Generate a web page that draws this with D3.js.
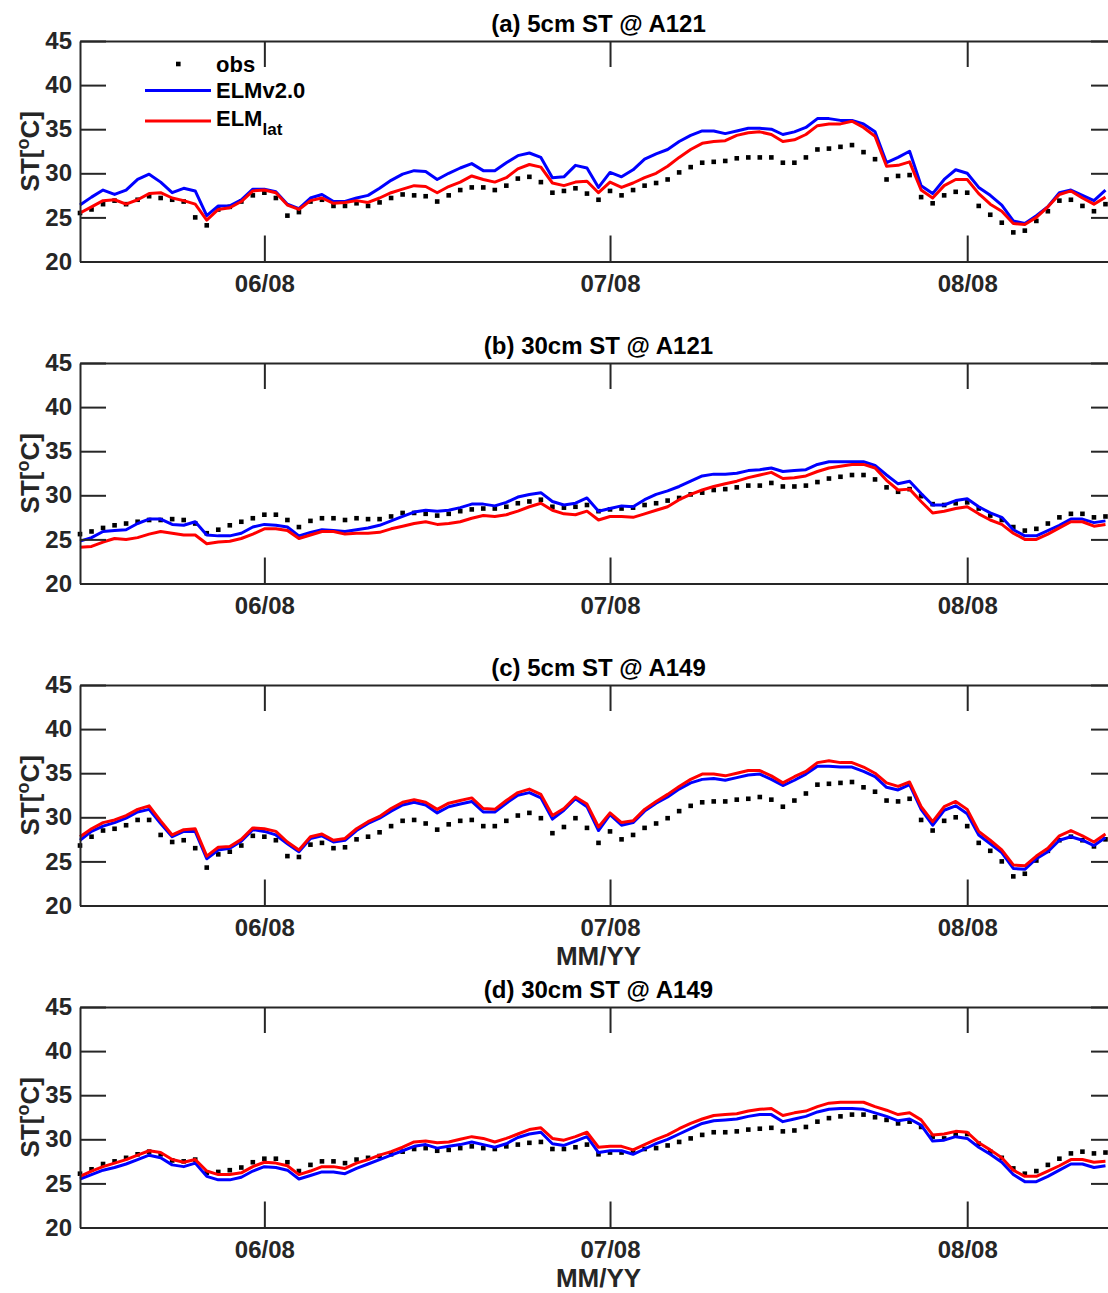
<!DOCTYPE html>
<html>
<head>
<meta charset="utf-8">
<script src="https://cdn.jsdelivr.net/npm/d3@7"></script>
<style>
  html, body { margin: 0; padding: 0; background: #fff; overflow: hidden; }
  svg { display: block; font-family: "Liberation Sans", Arial, Helvetica, sans-serif; font-weight: bold; }
</style>
</head>
<body>
<div id="chart"></div>
<script>
// daily values, 16 May 2008 .. 13 Aug 2008
const firstDay = new Date(Date.UTC(2008, 4, 16));
const lastDay = new Date(Date.UTC(2008, 7, 14));
const days = d3.utcDay.range(firstDay, d3.utcDay.offset(firstDay, 90));
const monthTicks = [new Date(Date.UTC(2008, 5, 1)), new Date(Date.UTC(2008, 6, 1)), new Date(Date.UTC(2008, 7, 1))];
const yTicks = [20, 25, 30, 35, 40, 45];
const titles = ["(a) 5cm ST @ A121", "(b) 30cm ST @ A121", "(c) 5cm ST @ A149", "(d) 30cm ST @ A149"];
const seriesNames = ["obs", "ELMv2.0", "ELMlat"];

// (a) 5cm @ A121
const obsA = [25.5, 25.9, 26.5, 26.9, 26.5, 27.0, 27.4, 27.2, 27.0, 26.8, 25.0, 24.1, 25.9, 26.2, 26.8, 27.5, 27.8, 27.2, 25.2, 25.6, 26.8, 27.0, 26.3, 26.3, 26.6, 26.3, 26.7, 27.2, 27.6, 27.5,
  27.4, 26.8, 27.5, 28.1, 28.4, 28.4, 28.1, 28.6, 29.4, 29.6, 29.0, 27.8, 28.0, 28.3, 27.7, 27.0, 28.0, 27.5, 28.1, 28.6, 28.9, 29.3, 30.1, 30.7, 31.2, 31.3, 31.4, 31.7, 31.8, 31.8,
  31.8, 31.2, 31.2, 31.8, 32.7, 32.8, 33.0, 33.2, 32.4, 31.6, 29.3, 29.7, 29.8, 27.3, 26.6, 27.5, 27.9, 27.8, 26.3, 25.3, 24.4, 23.3, 23.5, 24.6, 25.7, 26.9, 27.0, 26.3, 25.7, 26.5];
const v2A = [26.4, 27.3, 28.1, 27.6, 28.1, 29.3, 29.9, 29.0, 27.8, 28.3, 28.0, 25.2, 26.3, 26.3, 27.0, 28.2, 28.2, 27.9, 26.5, 26.0, 27.2, 27.6, 26.8, 26.8, 27.2, 27.5, 28.3, 29.2, 29.9, 30.3,
  30.2, 29.3, 30.0, 30.6, 31.1, 30.3, 30.3, 31.2, 32.0, 32.3, 31.8, 29.5, 29.6, 30.9, 30.6, 28.4, 30.1, 29.6, 30.4, 31.6, 32.2, 32.7, 33.6, 34.3, 34.8, 34.8, 34.5, 34.8, 35.1, 35.1,
  35.0, 34.4, 34.7, 35.2, 36.2, 36.2, 36.0, 36.0, 35.6, 34.7, 31.2, 31.8, 32.5, 28.6, 27.7, 29.3, 30.4, 30.0, 28.4, 27.5, 26.4, 24.6, 24.3, 25.2, 26.2, 27.8, 28.1, 27.5, 26.9, 28.1];
const latA = [25.5, 26.2, 26.9, 27.0, 26.5, 27.0, 27.7, 27.8, 27.2, 26.9, 26.5, 24.7, 25.9, 26.1, 26.8, 28.0, 28.1, 27.8, 26.4, 25.9, 26.9, 27.2, 26.6, 26.7, 26.9, 26.7, 27.2, 27.8, 28.2, 28.6,
  28.5, 27.8, 28.5, 29.0, 29.7, 29.3, 29.0, 29.5, 30.5, 31.0, 30.7, 28.9, 28.6, 29.0, 29.1, 27.8, 29.0, 28.4, 28.9, 29.5, 30.0, 30.8, 31.8, 32.7, 33.4, 33.6, 33.7, 34.3, 34.6, 34.7,
  34.4, 33.6, 33.8, 34.4, 35.4, 35.6, 35.6, 35.9, 35.2, 34.2, 30.8, 30.9, 31.3, 28.1, 27.2, 28.6, 29.3, 29.3, 27.7, 26.5, 25.7, 24.3, 24.2, 25.0, 26.2, 27.6, 28.0, 27.2, 26.5, 27.3];

// (b) 30cm @ A121
const obsB = [25.6, 25.9, 26.3, 26.6, 26.8, 27.0, 27.2, 27.2, 27.3, 27.2, 26.8, 25.7, 26.1, 26.6, 27.0, 27.4, 27.8, 27.8, 27.2, 26.4, 27.1, 27.4, 27.4, 27.2, 27.4, 27.3, 27.3, 27.6, 28.0, 28.0,
  27.9, 27.7, 27.9, 28.2, 28.4, 28.5, 28.5, 28.7, 29.1, 29.3, 29.5, 28.7, 28.6, 28.7, 28.9, 28.2, 28.4, 28.5, 28.6, 28.9, 29.1, 29.4, 29.7, 30.1, 30.3, 30.6, 30.7, 30.9, 31.1, 31.1,
  31.4, 31.0, 31.0, 31.1, 31.5, 31.9, 32.1, 32.3, 32.3, 31.8, 30.9, 30.4, 30.7, 29.9, 29.0, 28.9, 29.1, 29.2, 28.5, 27.7, 27.2, 26.4, 26.0, 26.2, 26.8, 27.5, 27.9, 27.9, 27.5, 27.6];
const v2B = [24.8, 25.2, 25.9, 26.0, 26.1, 26.8, 27.3, 27.3, 26.7, 26.6, 27.0, 25.5, 25.4, 25.4, 25.7, 26.4, 26.7, 26.6, 26.4, 25.4, 25.8, 26.1, 26.0, 25.9, 26.1, 26.3, 26.6, 27.1, 27.6, 28.1,
  28.3, 28.2, 28.3, 28.6, 29.0, 29.0, 28.8, 29.2, 29.8, 30.1, 30.3, 29.3, 28.9, 29.1, 29.7, 28.2, 28.5, 28.8, 28.7, 29.5, 30.1, 30.5, 31.0, 31.6, 32.2, 32.4, 32.4, 32.5, 32.8, 32.9,
  33.1, 32.7, 32.8, 32.9, 33.5, 33.8, 33.8, 33.8, 33.8, 33.4, 32.3, 31.3, 31.6, 30.2, 28.9, 28.9, 29.4, 29.6, 28.7, 28.0, 27.5, 26.1, 25.4, 25.4, 26.0, 26.6, 27.3, 27.3, 26.9, 27.1];
const latB = [24.1, 24.2, 24.7, 25.1, 25.0, 25.2, 25.6, 25.9, 25.7, 25.5, 25.5, 24.5, 24.7, 24.8, 25.1, 25.6, 26.2, 26.2, 26.0, 25.1, 25.5, 25.9, 25.9, 25.6, 25.7, 25.7, 25.8, 26.2, 26.5, 26.8,
  27.0, 26.7, 26.8, 27.0, 27.4, 27.7, 27.6, 27.8, 28.2, 28.7, 29.1, 28.3, 27.9, 27.8, 28.2, 27.2, 27.6, 27.6, 27.5, 27.9, 28.3, 28.7, 29.5, 30.1, 30.6, 31.0, 31.3, 31.6, 32.0, 32.3,
  32.6, 31.9, 32.0, 32.2, 32.7, 33.1, 33.3, 33.5, 33.5, 33.1, 31.7, 30.6, 30.7, 29.3, 28.0, 28.2, 28.5, 28.7, 27.9, 27.2, 26.7, 25.7, 25.0, 25.0, 25.6, 26.3, 27.0, 27.0, 26.5, 26.7];

// (c) 5cm @ A149
const obsC = [26.8, 27.8, 28.5, 28.7, 29.1, 29.7, 29.7, 28.0, 27.2, 27.4, 26.5, 24.3, 25.8, 26.1, 26.8, 27.9, 27.8, 27.4, 25.6, 25.5, 26.9, 27.1, 26.5, 26.6, 27.5, 27.8, 28.3, 29.0, 29.6, 29.7,
  29.3, 28.6, 29.2, 29.6, 29.7, 29.0, 29.0, 29.6, 30.2, 30.5, 29.9, 28.2, 28.9, 29.9, 28.8, 27.1, 28.4, 27.5, 28.0, 28.8, 29.3, 29.9, 30.7, 31.3, 31.7, 31.8, 31.8, 32.0, 32.1, 32.3,
  32.0, 31.2, 31.9, 32.7, 33.7, 33.8, 33.9, 34.0, 33.4, 32.9, 31.9, 31.8, 32.1, 29.7, 28.5, 29.6, 30.0, 29.0, 27.1, 26.2, 25.0, 23.3, 23.6, 25.1, 26.2, 27.4, 27.8, 27.4, 26.7, 27.5];
const v2C = [27.4, 28.4, 29.0, 29.4, 29.9, 30.6, 30.9, 29.3, 27.8, 28.4, 28.4, 25.3, 26.3, 26.5, 27.3, 28.6, 28.4, 28.0, 27.0, 26.1, 27.6, 27.9, 27.2, 27.4, 28.5, 29.3, 29.9, 30.7, 31.4, 31.7,
  31.4, 30.5, 31.2, 31.5, 31.8, 30.6, 30.6, 31.6, 32.5, 32.8, 32.2, 29.8, 30.8, 32.1, 31.2, 28.5, 30.3, 29.1, 29.4, 30.7, 31.6, 32.3, 33.2, 33.9, 34.3, 34.4, 34.2, 34.5, 34.8, 34.9,
  34.3, 33.6, 34.2, 34.9, 35.8, 35.8, 35.7, 35.7, 35.2, 34.6, 33.4, 33.1, 33.7, 30.9, 29.1, 30.8, 31.3, 30.4, 28.0, 27.0, 26.0, 24.2, 24.1, 25.3, 26.1, 27.4, 27.8, 27.4, 26.8, 27.7];
const latC = [27.8, 28.7, 29.4, 29.7, 30.2, 30.9, 31.3, 29.6, 28.0, 28.6, 28.7, 25.6, 26.6, 26.7, 27.5, 28.8, 28.7, 28.4, 27.2, 26.3, 27.8, 28.1, 27.4, 27.6, 28.7, 29.5, 30.1, 31.0, 31.7, 32.0,
  31.7, 30.9, 31.6, 31.9, 32.2, 31.0, 30.9, 31.9, 32.8, 33.2, 32.6, 30.2, 31.0, 32.3, 31.5, 28.9, 30.5, 29.4, 29.6, 30.9, 31.8, 32.6, 33.5, 34.3, 34.9, 34.9, 34.7, 35.0, 35.3, 35.3,
  34.7, 33.9, 34.6, 35.2, 36.2, 36.4, 36.2, 36.2, 35.7, 35.0, 33.9, 33.5, 34.0, 31.2, 29.5, 31.2, 31.8, 30.9, 28.4, 27.4, 26.3, 24.6, 24.5, 25.6, 26.5, 27.9, 28.5, 27.9, 27.2, 28.1];

// (d) 30cm @ A149
const obsD = [26.1, 26.6, 27.2, 27.5, 27.9, 28.3, 28.6, 28.3, 27.6, 27.5, 27.7, 26.2, 26.3, 26.5, 26.8, 27.4, 27.8, 27.8, 27.4, 26.4, 27.1, 27.5, 27.5, 27.3, 27.7, 27.9, 28.1, 28.3, 28.6, 28.9,
  29.0, 28.7, 28.8, 29.0, 29.2, 29.0, 28.9, 29.2, 29.4, 29.6, 29.7, 28.9, 28.9, 29.1, 29.4, 28.3, 28.5, 28.5, 28.6, 28.9, 29.0, 29.3, 29.7, 30.1, 30.5, 30.8, 30.8, 30.9, 31.1, 31.2,
  31.3, 30.9, 31.0, 31.4, 32.0, 32.4, 32.6, 32.8, 32.8, 32.5, 32.2, 31.8, 32.0, 31.4, 30.3, 30.1, 30.5, 30.6, 29.5, 28.6, 27.9, 26.7, 26.1, 26.4, 27.1, 27.8, 28.4, 28.6, 28.4, 28.5];
const v2D = [25.5, 26.0, 26.5, 26.8, 27.2, 27.7, 28.2, 27.9, 27.1, 26.9, 27.3, 25.8, 25.4, 25.4, 25.7, 26.4, 26.9, 26.8, 26.5, 25.5, 25.9, 26.3, 26.3, 26.1, 26.7, 27.2, 27.7, 28.2, 28.7, 29.2,
  29.4, 29.0, 29.2, 29.4, 29.7, 29.4, 29.1, 29.5, 30.2, 30.6, 30.8, 29.5, 29.3, 29.8, 30.3, 28.5, 28.7, 28.7, 28.3, 28.9, 29.5, 30.0, 30.6, 31.2, 31.8, 32.1, 32.2, 32.3, 32.6, 32.8,
  32.8, 32.0, 32.3, 32.6, 33.1, 33.4, 33.5, 33.5, 33.4, 33.0, 32.6, 32.1, 32.3, 31.6, 29.8, 29.9, 30.3, 30.1, 29.1, 28.3, 27.4, 26.0, 25.2, 25.2, 25.8, 26.5, 27.2, 27.2, 26.8, 27.0];
const latD = [25.8, 26.4, 26.9, 27.3, 27.7, 28.2, 28.7, 28.5, 27.7, 27.4, 27.7, 26.4, 26.0, 26.0, 26.2, 26.9, 27.4, 27.3, 27.0, 26.0, 26.4, 26.9, 26.9, 26.7, 27.3, 27.7, 28.2, 28.6, 29.1, 29.7,
  29.8, 29.6, 29.7, 30.0, 30.3, 30.1, 29.7, 30.1, 30.6, 31.1, 31.3, 30.1, 29.9, 30.3, 30.8, 29.1, 29.2, 29.2, 28.8, 29.4, 30.0, 30.5, 31.2, 31.8, 32.3, 32.7, 32.8, 32.9, 33.2, 33.4,
  33.5, 32.7, 33.0, 33.2, 33.7, 34.1, 34.2, 34.2, 34.2, 33.7, 33.3, 32.8, 33.0, 32.2, 30.5, 30.6, 30.9, 30.8, 29.6, 28.8, 27.9, 26.5, 25.8, 25.8, 26.4, 27.0, 27.7, 27.7, 27.4, 27.5];

const panels = [
  { title: titles[0], obs: obsA, v2: v2A, lat: latA, legend: true, xlabel: false },
  { title: titles[1], obs: obsB, v2: v2B, lat: latB, legend: false, xlabel: false },
  { title: titles[2], obs: obsC, v2: v2C, lat: latC, legend: false, xlabel: true },
  { title: titles[3], obs: obsD, v2: v2D, lat: latD, legend: false, xlabel: true }
];

const W = 1108, H = 1293;
const left = 80, right = 1117, ph = 220.5, step = 322, top0 = 41;
const axisColor = "#262626";
const tickLen = 26;
const tickFont = "24px", labelFont = "26px";

const svg = d3.select("#chart").append("svg")
  .attr("width", W)
  .attr("height", H);

const x = d3.scaleUtc().domain([firstDay, lastDay]).range([left, right]);

panels.forEach(function (p, i) {
  const top = top0 + i * step;
  const y = d3.scaleLinear().domain([20, 45]).range([top + ph, top]);
  const g = svg.append("g");

  const line = d3.line()
    .x(function (d, k) { return x(days[k]); })
    .y(function (d) { return y(d); });

  // observations as small squares
  g.append("g").selectAll("rect")
    .data(p.obs)
    .join("rect")
    .attr("x", function (d, k) { return x(days[k]) - 2.3; })
    .attr("y", function (d) { return y(d) - 2.3; })
    .attr("width", 4.6)
    .attr("height", 4.6)
    .attr("fill", "#000");

  g.append("path").datum(p.v2)
    .attr("fill", "none").attr("stroke", "#0000ff").attr("stroke-width", 3)
    .attr("stroke-linejoin", "round")
    .attr("d", line);

  g.append("path").datum(p.lat)
    .attr("fill", "none").attr("stroke", "#ff0000").attr("stroke-width", 3)
    .attr("stroke-linejoin", "round")
    .attr("d", line);

  // axes (box with inward ticks)
  const fmt = d3.utcFormat("%m/%y");
  const bottom = g.append("g")
    .attr("transform", "translate(0," + (top + ph) + ")")
    .call(d3.axisBottom(x).tickValues(monthTicks).tickFormat(fmt).tickSize(-tickLen).tickSizeOuter(0).tickPadding(13));
  const topAx = g.append("g")
    .attr("transform", "translate(0," + top + ")")
    .call(d3.axisTop(x).tickValues(monthTicks).tickFormat("").tickSize(-tickLen).tickSizeOuter(0));
  const leftAx = g.append("g")
    .attr("transform", "translate(" + left + ",0)")
    .call(d3.axisLeft(y).tickValues(yTicks).tickSize(-tickLen).tickSizeOuter(0).tickPadding(8));
  const rightAx = g.append("g")
    .attr("transform", "translate(" + right + ",0)")
    .call(d3.axisRight(y).tickValues(yTicks).tickFormat("").tickSize(-tickLen).tickSizeOuter(0));

  [bottom, topAx, leftAx, rightAx].forEach(function (a) {
    a.select(".domain").attr("stroke", axisColor).attr("stroke-width", 2);
    a.selectAll(".tick line").attr("stroke", axisColor).attr("stroke-width", 2);
    a.selectAll(".tick text").attr("fill", axisColor)
      .style("font-size", tickFont).style("font-weight", "bold")
      .style("font-family", "'Liberation Sans', Arial, sans-serif");
  });

  // title
  g.append("text")
    .attr("x", (left + right) / 2).attr("y", top - 9)
    .attr("text-anchor", "middle")
    .attr("fill", "#000")
    .style("font-size", tickFont)
    .text(p.title);

  // y label ST[oC]
  const yl = g.append("text")
    .attr("transform", "translate(39," + (top + ph / 2) + ") rotate(-90)")
    .attr("text-anchor", "middle")
    .attr("fill", axisColor)
    .style("font-size", labelFont);
  yl.append("tspan").text("ST[");
  yl.append("tspan").attr("dy", -10).style("font-size", "18px").text("o");
  yl.append("tspan").attr("dy", 10).text("C]");

  if (p.xlabel) {
    g.append("text")
      .attr("x", (left + right) / 2).attr("y", top + ph + 59)
      .attr("text-anchor", "middle")
      .attr("fill", axisColor)
      .style("font-size", labelFont)
      .text("MM/YY");
  }

  if (p.legend) {
    const lg = g.append("g").attr("transform", "translate(145," + (top + 23) + ")");
    lg.append("rect").attr("x", 31).attr("y", -2.3).attr("width", 4.6).attr("height", 4.6).attr("fill", "#000");
    lg.append("line").attr("x1", 0).attr("x2", 66).attr("y1", 26.5).attr("y2", 26.5)
      .attr("stroke", "#0000ff").attr("stroke-width", 3);
    lg.append("line").attr("x1", 0).attr("x2", 66).attr("y1", 57).attr("y2", 57)
      .attr("stroke", "#ff0000").attr("stroke-width", 3);
    const tx = 71;
    lg.append("text").attr("x", tx).attr("y", 8).style("font-size", "22px").attr("fill", "#000").text(seriesNames[0]);
    lg.append("text").attr("x", tx).attr("y", 34).style("font-size", "22px").attr("fill", "#000").text(seriesNames[1]);
    const t3 = lg.append("text").attr("x", tx).attr("y", 62).style("font-size", "22px").attr("fill", "#000");
    t3.append("tspan").text(seriesNames[2].slice(0, 3));
    t3.append("tspan").attr("dy", 9).style("font-size", "17px").text(seriesNames[2].slice(3));
  }
});
</script>
</body>
</html>
